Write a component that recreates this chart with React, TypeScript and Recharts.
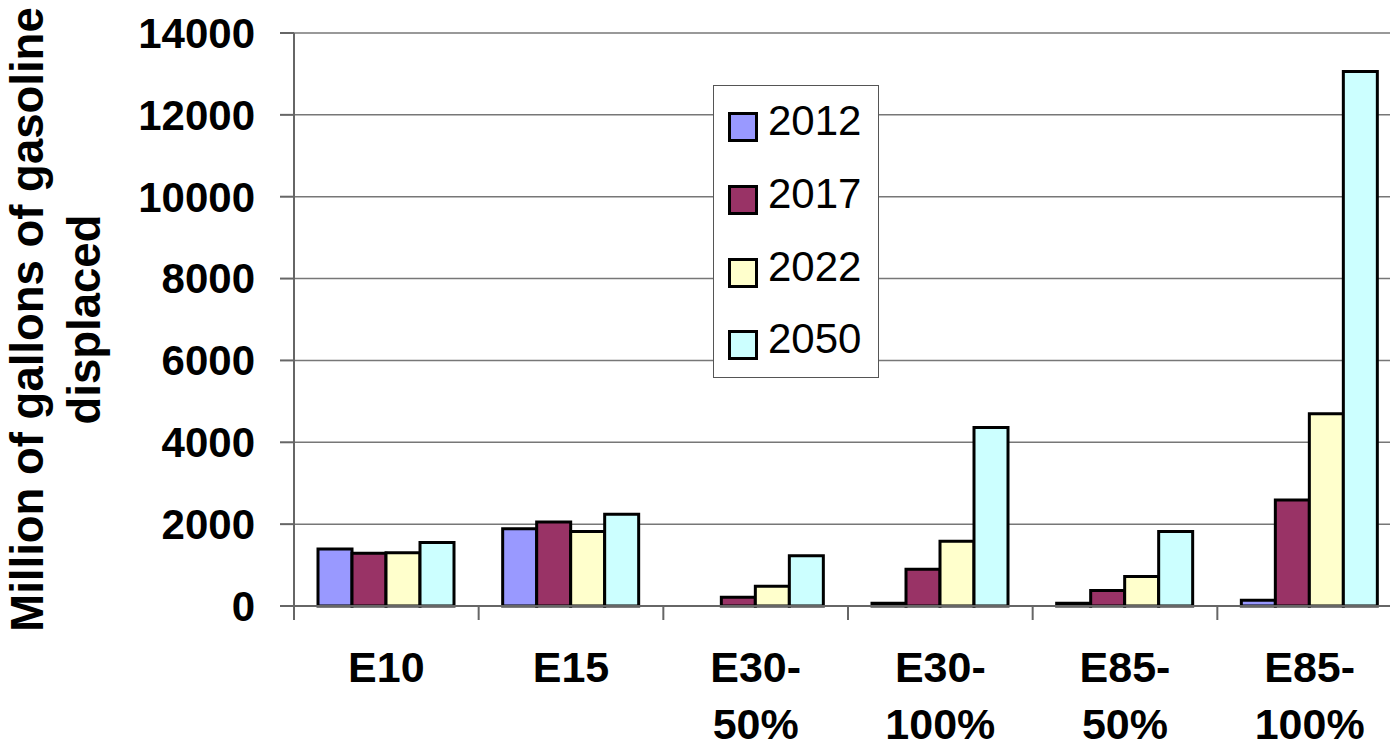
import { Bar, BarChart, CartesianGrid, Legend, XAxis, YAxis } from "recharts";

const FONT = '"Liberation Sans", Arial, Helvetica, sans-serif';

const categories = ["E10", "E15", "E30-50%", "E30-100%", "E85-50%", "E85-100%"];
const y2012 = [1390, 1890, 0, 70, 70, 140];
const y2017 = [1290, 2050, 215, 900, 380, 2590];
const y2022 = [1300, 1820, 480, 1580, 720, 4700];
const y2050 = [1550, 2240, 1230, 4360, 1820, 13060];
const yTicks = [0, 2000, 4000, 6000, 8000, 10000, 12000, 14000];

const series = [
  { key: "y2012", name: "2012", color: "#9999FF" },
  { key: "y2017", name: "2017", color: "#993366" },
  { key: "y2022", name: "2022", color: "#FFFFCC" },
  { key: "y2050", name: "2050", color: "#CCFFFF" },
];

const data = categories.map((name, i) => ({
  name,
  y2012: y2012[i],
  y2017: y2017[i],
  y2022: y2022[i],
  y2050: y2050[i],
}));

function CategoryTick(props: any) {
  const { x, y, payload } = props;
  const half = payload?.offset ?? 92.3;
  const label = String(payload.value);
  const cut = label.indexOf("-");
  const parts = cut >= 0 ? [label.slice(0, cut + 1), label.slice(cut + 1)] : [label];
  return (
    <g>
      <line x1={x - half} x2={x - half} y1={y} y2={y + 14} stroke="#666" strokeWidth={2} />
      {parts.map((p, i) => (
        <text
          key={i}
          x={x}
          y={y + 76 + i * 57}
          textAnchor="middle"
          fontFamily={FONT}
          fontWeight="bold"
          fontSize={43}
          fill="#000"
        >
          {p}
        </text>
      ))}
    </g>
  );
}

function AxisTitle(props: any) {
  const vb = props.viewBox ?? { y: 33, height: 573 };
  const cy = vb.y + vb.height / 2;
  const common = {
    transform: "rotate(-90)",
    textAnchor: "middle" as const,
    fontFamily: FONT,
    fontWeight: "bold",
    fontSize: 45.5,
    fill: "#000",
  };
  return (
    <g>
      <text {...common} x={-cy} y={43}>
        Million of gallons of gasoline
      </text>
      <text {...common} x={-cy} y={100}>
        displaced
      </text>
    </g>
  );
}

function LegendBox() {
  return (
    <div
      style={{
        boxSizing: "border-box",
        width: 166,
        height: 293,
        border: "1.5px solid #555",
        background: "#fff",
        paddingTop: 5,
        fontFamily: FONT,
      }}
    >
      {series.map((s) => (
        <div key={s.key} style={{ height: 72.7, display: "flex", alignItems: "center" }}>
          <div
            style={{
              boxSizing: "border-box",
              width: 30,
              height: 30,
              marginLeft: 14,
              border: "3px solid #000",
              background: s.color,
            }}
          />
          <span
            style={{
              marginLeft: 10,
              fontSize: 42,
              lineHeight: 1,
              color: "#000",
              position: "relative",
              top: -6,
            }}
          >
            {s.name}
          </span>
        </div>
      ))}
    </div>
  );
}

export default function App() {
  return (
    <div
      style={{
        position: "absolute",
        left: 0,
        top: 0,
        width: 1390,
        height: 748,
        overflow: "hidden",
        background: "#fff",
      }}
    >
      <BarChart
        width={1412}
        height={748}
        data={data}
        margin={{ top: 33, right: 10, bottom: 0, left: 0 }}
        barCategoryGap="13%"
        barGap={0}
      >
        <CartesianGrid vertical={false} stroke="#777" strokeWidth={1.5} />
        <XAxis
          dataKey="name"
          height={142}
          interval={0}
          tickSize={0}
          tickMargin={0}
          tickLine={false}
          axisLine={{ stroke: "#666", strokeWidth: 2 }}
          tick={<CategoryTick />}
        />
        <YAxis
          width={294}
          domain={[0, 14000]}
          ticks={yTicks}
          interval={0}
          tickSize={14}
          tickMargin={25}
          axisLine={{ stroke: "#666", strokeWidth: 2 }}
          tickLine={{ stroke: "#666", strokeWidth: 2 }}
          tick={{ fontFamily: FONT, fontWeight: "bold", fontSize: 42, fill: "#000" }}
          label={{ content: <AxisTitle /> }}
        />
        <Legend
          layout="vertical"
          align="center"
          verticalAlign="middle"
          wrapperStyle={{ left: 713, top: 85, width: 166, height: 293 }}
          content={() => <LegendBox />}
        />
        {series.map((s) => (
          <Bar
            key={s.key}
            dataKey={s.key}
            name={s.name}
            fill={s.color}
            stroke="#000"
            strokeWidth={3}
            isAnimationActive={false}
          />
        ))}
      </BarChart>
    </div>
  );
}
